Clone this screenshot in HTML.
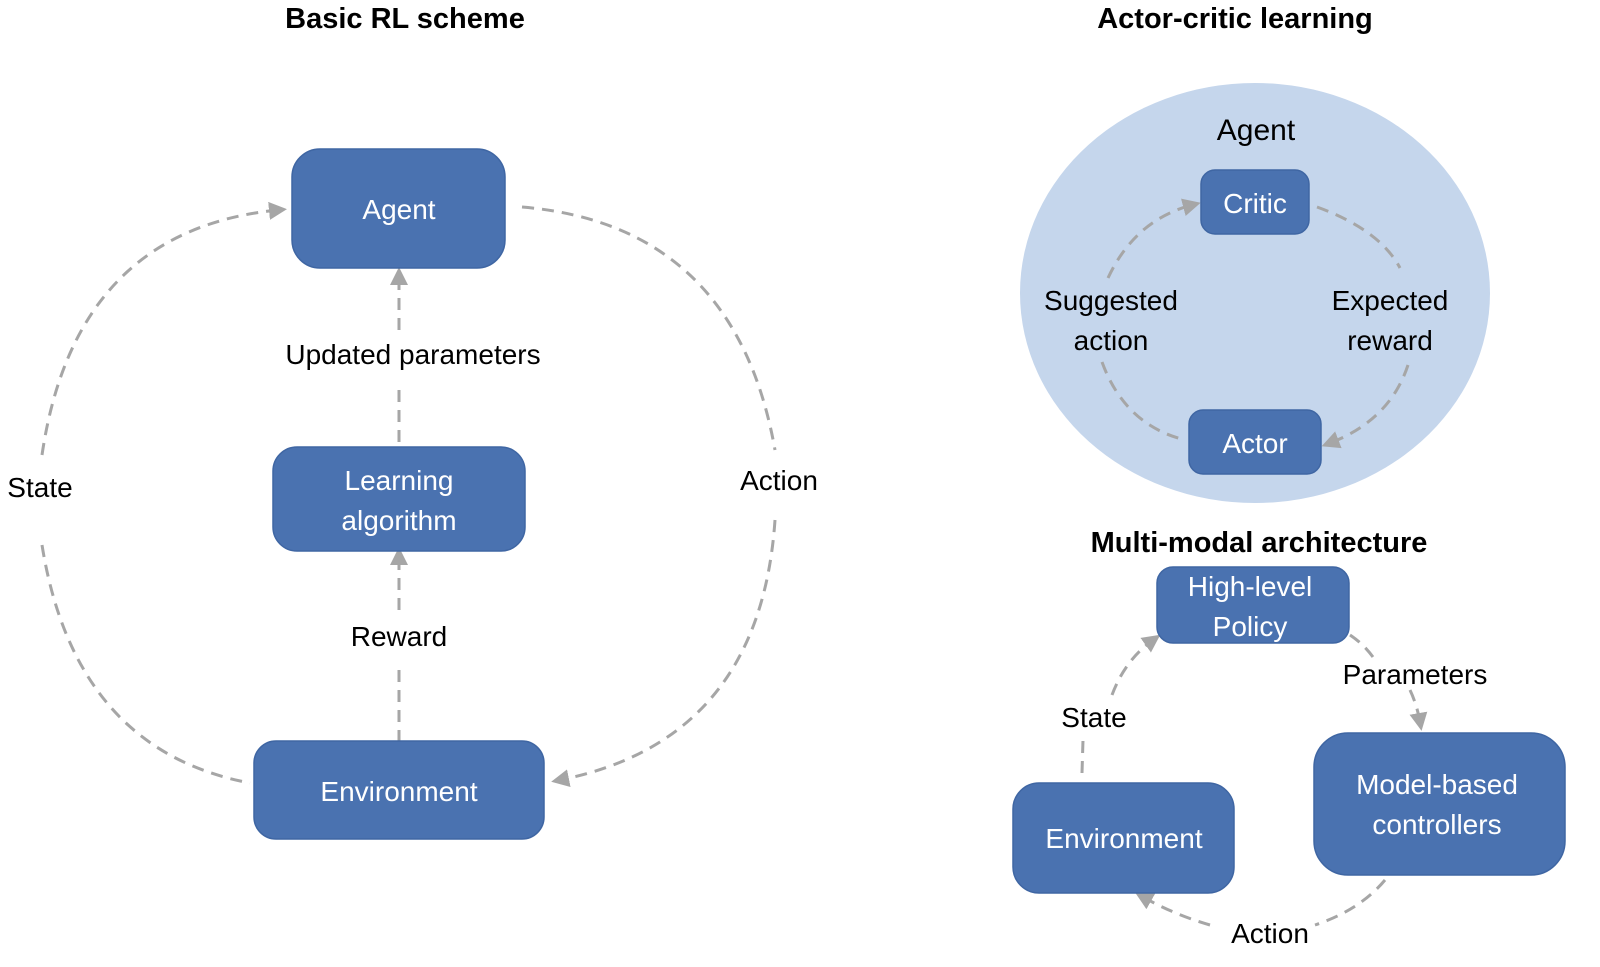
<!DOCTYPE html>
<html><head><meta charset="utf-8"><style>
html,body{margin:0;padding:0;background:#fff;}
svg{display:block;}
text{font-family:"Liberation Sans",sans-serif;}
</style></head><body>
<svg width="1600" height="967" viewBox="0 0 1600 967" xmlns="http://www.w3.org/2000/svg">
<defs>
<marker id="ah" markerWidth="6" markerHeight="6" refX="3" refY="3" orient="auto" markerUnits="strokeWidth">
<path d="M0,0 L6,3 L0,6 z" fill="#a6a6a6"/>
</marker>
</defs>
<ellipse cx="1255" cy="293" rx="235" ry="210" fill="#c5d6ec"/>
<g fill="none" stroke="#a6a6a6" stroke-width="3" stroke-dasharray="12,8">
<!-- left scheme -->
<path d="M522,207 Q735,225 775,450" />
<path d="M775,520 Q760,740 560,780" marker-end="url(#ah)"/>
<path d="M42,455 Q75,230 278,210" marker-end="url(#ah)"/>
<path d="M42,545 Q75,750 250,783"/>
<path d="M399,330 L399,276" marker-end="url(#ah)"/>
<path d="M399,390 L399,447"/>
<path d="M399,610 L399,556" marker-end="url(#ah)"/>
<path d="M399,670 L399,741"/>
<!-- actor-critic -->
<path d="M1317,207 Q1380,230 1400,268"/>
<path d="M1408,365 Q1390,420 1330,443" marker-end="url(#ah)"/>
<path d="M1108,278 Q1135,220 1192,205" marker-end="url(#ah)"/>
<path d="M1102,362 Q1125,425 1185,440"/>
<!-- multimodal -->
<path d="M1350,635 Q1365,645 1375,660"/>
<path d="M1410,690 Q1417,705 1420,722" marker-end="url(#ah)"/>
<path d="M1082,773 L1083,740"/>
<path d="M1112,695 Q1125,660 1153,640" marker-end="url(#ah)"/>
<path d="M1385,880 Q1360,910 1315,925"/>
<path d="M1210,925 Q1175,915 1143,897" marker-end="url(#ah)"/>
</g>
<g fill="#4a72b0" stroke="#3f66a3" stroke-width="1.5">
<rect x="292" y="149" width="213" height="119" rx="28"/>
<rect x="273" y="447" width="252" height="104" rx="24"/>
<rect x="254" y="741" width="290" height="98" rx="22"/>
<rect x="1201" y="170" width="108" height="64" rx="14"/>
<rect x="1189" y="410" width="132" height="64" rx="14"/>
<rect x="1157" y="567" width="192" height="76" rx="16"/>
<rect x="1314" y="733" width="251" height="142" rx="34"/>
<rect x="1013" y="783" width="221" height="110" rx="26"/>
</g>
<g font-size="28" text-anchor="middle" fill="#fff">
<text x="399" y="219">Agent</text>
<text x="399" y="490">Learning</text>
<text x="399" y="530">algorithm</text>
<text x="399" y="801">Environment</text>
<text x="1255" y="213">Critic</text>
<text x="1255" y="453">Actor</text>
<text x="1250" y="596">High-level</text>
<text x="1250" y="636">Policy</text>
<text x="1437" y="794">Model-based</text>
<text x="1437" y="834">controllers</text>
<text x="1124" y="848">Environment</text>
</g>
<g font-size="28" text-anchor="middle" fill="#000">
<text x="413" y="364">Updated parameters</text>
<text x="399" y="646">Reward</text>
<text x="40" y="497">State</text>
<text x="779" y="490">Action</text>
<text x="1256" y="140" font-size="30">Agent</text>
<text x="1111" y="310">Suggested</text>
<text x="1111" y="350">action</text>
<text x="1390" y="310">Expected</text>
<text x="1390" y="350">reward</text>
<text x="1415" y="684">Parameters</text>
<text x="1094" y="727">State</text>
<text x="1270" y="943">Action</text>
</g>
<g font-size="29" font-weight="bold" text-anchor="middle" fill="#000">
<text x="405" y="28">Basic RL scheme</text>
<text x="1235" y="28">Actor-critic learning</text>
<text x="1259" y="552">Multi-modal architecture</text>
</g>
</svg>
</body></html>
